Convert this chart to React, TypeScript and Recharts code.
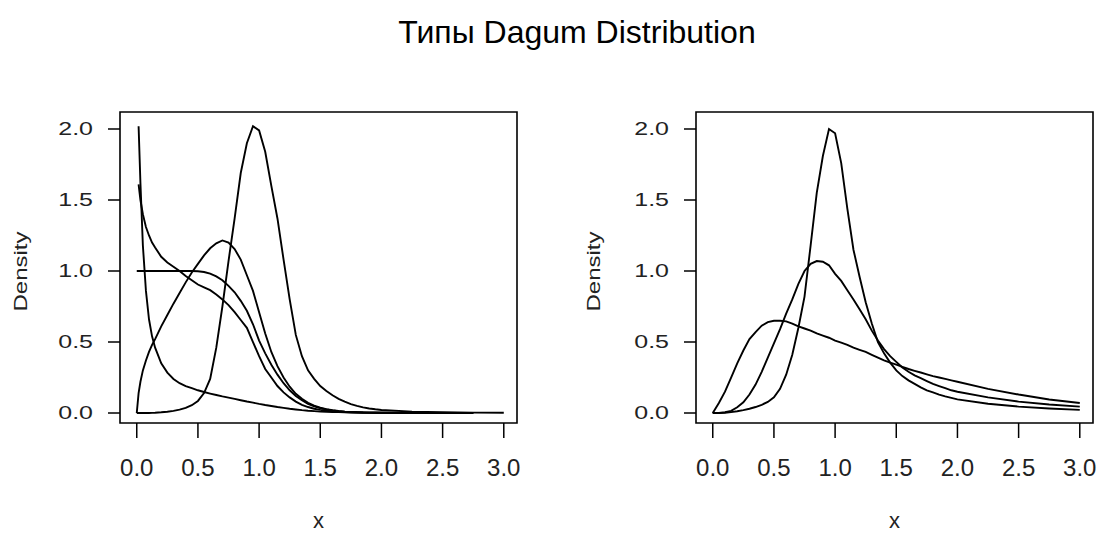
import React from 'react';
import { LineChart, Line, XAxis, YAxis, ReferenceArea } from 'recharts';

const FONT = '"Liberation Sans", Arial, sans-serif';
const TEXT_COLOR = '#222';

// ---------- data: left panel ----------
const leftX = [0, 0.015, 0.03, 0.05, 0.075, 0.1, 0.125, 0.15, 0.2, 0.25, 0.3, 0.35, 0.4, 0.45, 0.5, 0.55, 0.6, 0.65, 0.7, 0.75, 0.8, 0.85, 0.9, 0.95, 1.0, 1.05, 1.1, 1.15, 1.2, 1.25, 1.3, 1.35, 1.4, 1.45, 1.5, 1.55, 1.6, 1.65, 1.7, 1.75, 1.8, 1.85, 1.9, 1.95, 2.0, 2.25, 2.5, 2.75, 3.0];

const leftL1 = [null, 2.02, 1.62, 1.18, 0.86, 0.66, 0.54, 0.46, 0.35, 0.285, 0.24, 0.21, 0.19, 0.175, 0.16, 0.148, 0.137, 0.127, 0.117, 0.108, 0.099, 0.09, 0.081, 0.073, 0.064, 0.056, 0.049, 0.042, 0.036, 0.03, 0.025, 0.02, 0.016, 0.013, 0.01, 0.008, 0.007, 0.006, 0.005, 0.004, 0.004, 0.003, 0.003, 0.002, 0.002, 0.001, 0.001, 0, null];

const leftL2 = [null, 1.61, 1.5, 1.4, 1.31, 1.25, 1.2, 1.165, 1.1, 1.06, 1.03, 1.0, 0.965, 0.935, 0.905, 0.885, 0.865, 0.835, 0.8, 0.76, 0.71, 0.655, 0.6, 0.5, 0.4, 0.31, 0.25, 0.19, 0.145, 0.11, 0.08, 0.058, 0.042, 0.03, 0.022, 0.016, 0.012, 0.009, 0.007, 0.005, 0.004, 0.003, 0.002, 0.002, 0.001, 0, 0, 0, null];

const leftL3 = [1.0, 1.0, 1.0, 1.0, 1.0, 1.0, 1.0, 1.0, 1.0, 1.0, 1.0, 1.0, 1.0, 1.0, 0.998, 0.993, 0.982, 0.962, 0.935, 0.895, 0.85, 0.79, 0.72, 0.625, 0.51, 0.42, 0.34, 0.27, 0.21, 0.16, 0.12, 0.09, 0.065, 0.047, 0.034, 0.025, 0.018, 0.013, 0.009, 0.007, 0.005, 0.004, 0.003, 0.002, 0.002, 0.001, 0, 0, null];

const leftL4 = [0, 0.14, 0.22, 0.3, 0.37, 0.43, 0.48, 0.52, 0.61, 0.69, 0.77, 0.845, 0.92, 0.99, 1.05, 1.11, 1.16, 1.195, 1.215, 1.2, 1.155, 1.08, 0.97, 0.86, 0.71, 0.56, 0.43, 0.33, 0.25, 0.185, 0.135, 0.1, 0.072, 0.052, 0.037, 0.027, 0.02, 0.014, 0.01, 0.008, 0.006, 0.004, 0.003, 0.002, 0.002, 0.001, 0, 0, null];

const leftL5 = [0, 0, 0, 0, 0, 0, 0.001, 0.002, 0.005, 0.009, 0.015, 0.024, 0.036, 0.055, 0.085, 0.14, 0.24, 0.46, 0.75, 1.07, 1.37, 1.69, 1.9, 2.02, 1.99, 1.84, 1.6, 1.37, 1.08, 0.8, 0.55, 0.4, 0.3, 0.24, 0.19, 0.155, 0.125, 0.1, 0.08, 0.063, 0.05, 0.04, 0.032, 0.026, 0.021, 0.01, 0.005, 0.003, 0.002];

// ---------- data: right panel ----------
const rightX = [0, 0.05, 0.1, 0.15, 0.2, 0.25, 0.3, 0.35, 0.4, 0.45, 0.5, 0.55, 0.6, 0.65, 0.7, 0.75, 0.8, 0.85, 0.9, 0.95, 1.0, 1.05, 1.1, 1.15, 1.2, 1.25, 1.3, 1.35, 1.4, 1.45, 1.5, 1.55, 1.6, 1.65, 1.7, 1.75, 1.8, 1.85, 1.9, 1.95, 2.0, 2.25, 2.5, 2.75, 3.0];

const rightR1 = [0, 0, 0.002, 0.006, 0.012, 0.02, 0.03, 0.042, 0.058, 0.078, 0.11, 0.17, 0.27, 0.41, 0.6, 0.82, 1.18, 1.55, 1.81, 2.0, 1.97, 1.76, 1.44, 1.15, 0.96, 0.78, 0.63, 0.5, 0.42, 0.355, 0.3, 0.26, 0.23, 0.205, 0.18, 0.16, 0.145, 0.13, 0.117, 0.106, 0.096, 0.065, 0.045, 0.032, 0.022];

const rightR2 = [0, 0.001, 0.005, 0.015, 0.04, 0.075, 0.13, 0.2, 0.29, 0.39, 0.49, 0.59, 0.7, 0.8, 0.91, 1.0, 1.05, 1.07, 1.065, 1.04, 0.98, 0.93, 0.865, 0.8, 0.73, 0.66, 0.58, 0.51, 0.45, 0.4, 0.36, 0.32, 0.29, 0.265, 0.245, 0.225, 0.205, 0.19, 0.175, 0.16, 0.15, 0.11, 0.08, 0.06, 0.045];

const rightR3 = [0, 0.07, 0.15, 0.25, 0.35, 0.44, 0.52, 0.57, 0.615, 0.64, 0.65, 0.65, 0.645, 0.63, 0.61, 0.595, 0.58, 0.56, 0.545, 0.53, 0.51, 0.495, 0.48, 0.46, 0.445, 0.43, 0.41, 0.39, 0.37, 0.355, 0.34, 0.325, 0.31, 0.297, 0.285, 0.272, 0.26, 0.25, 0.24, 0.23, 0.22, 0.17, 0.13, 0.095, 0.07];

// ---------- axes ----------
const xTicks = [0, 0.5, 1, 1.5, 2, 2.5, 3];
const yTicks = [0, 0.5, 1, 1.5, 2];
const X_DOMAIN: [number, number] = [-0.137, 3.108];
const Y_DOMAIN: [number, number] = [-0.0704, 2.1197];

const TITLE = 'Типы Dagum Distribution';
const X_LABEL = 'x';
const Y_LABEL = 'Density';

function buildRows(xs: number[], series: (number | null)[][]) {
  return xs.map((x, i) => {
    const row: Record<string, number | null> = { x };
    series.forEach((s, k) => {
      row['s' + k] = s[i];
    });
    return row;
  });
}

const leftRows = buildRows(leftX, [leftL1, leftL2, leftL3, leftL4, leftL5]);
const rightRows = buildRows(rightX, [rightR1, rightR2, rightR3]);

const XTick = (props: any) => {
  const { x, y, payload } = props;
  return (
    <text x={x} y={y} textAnchor="middle" fontFamily={FONT} fontSize={24} fill={TEXT_COLOR}>
      {Number(payload.value).toFixed(1)}
    </text>
  );
};

const YTick = (props: any) => {
  const { x, y, payload } = props;
  return (
    <text
      x={x}
      y={y}
      textAnchor="end"
      dominantBaseline="central"
      fontFamily={FONT}
      fontSize={24}
      fill={TEXT_COLOR}
      transform={`translate(${x} ${y}) scale(1.04 0.74) translate(${-x} ${-y})`}
    >
      {Number(payload.value).toFixed(1)}
    </text>
  );
};

function Panel({
  rows,
  nSeries,
  left,
  yAxisWidth,
  marginRight,
  densityOffset,
}: {
  rows: any[];
  nSeries: number;
  left: number;
  yAxisWidth: number;
  marginRight: number;
  densityOffset: number;
}) {
  const keys = Array.from({ length: nSeries }, (_, k) => 's' + k);
  return (
    <div style={{ position: 'absolute', left, top: 0 }}>
      <LineChart
        width={549}
        height={534}
        data={rows}
        margin={{ top: 112, right: marginRight, bottom: 0, left: 0 }}
      >
        <XAxis
          dataKey="x"
          type="number"
          domain={X_DOMAIN}
          ticks={xTicks}
          interval={0}
          allowDataOverflow
          height={111}
          axisLine={false}
          tickSize={15}
          tickMargin={38}
          tickLine={{ stroke: '#000', strokeWidth: 1.5 }}
          tick={(p: any) => <XTick {...p} />}
          label={{
            content: (p: any) => {
              const vb = p.viewBox || {};
              const cx = vb.x + vb.width / 2;
              const by = vb.y + 105;
              return (
                <text
                  x={cx}
                  y={by}
                  textAnchor="middle"
                  fontFamily={FONT}
                  fontSize={22}
                  fill={TEXT_COLOR}
                >
                  {X_LABEL}
                </text>
              );
            },
          }}
        />
        <YAxis
          type="number"
          domain={Y_DOMAIN}
          ticks={yTicks}
          interval={0}
          allowDataOverflow
          width={yAxisWidth}
          axisLine={false}
          tickSize={12}
          tickMargin={15}
          tickLine={{ stroke: '#000', strokeWidth: 1.5 }}
          tick={(p: any) => <YTick {...p} />}
          label={{
            content: (p: any) => {
              const vb = p.viewBox || {};
              const cx = vb.x + densityOffset;
              const cy = vb.y + vb.height / 2 + 4;
              return (
                <text
                  x={0}
                  y={0}
                  textAnchor="middle"
                  dominantBaseline="central"
                  fontFamily={FONT}
                  fontSize={24}
                  fill={TEXT_COLOR}
                  transform={`translate(${cx} ${cy}) scale(0.77 1) rotate(-90)`}
                >
                  {Y_LABEL}
                </text>
              );
            },
          }}
        />
        <ReferenceArea
          x1={X_DOMAIN[0]}
          x2={X_DOMAIN[1]}
          y1={Y_DOMAIN[0]}
          y2={Y_DOMAIN[1]}
          fill="none"
          stroke="#000"
          strokeWidth={1.6}
          ifOverflow="visible"
        />
        {keys.map((k) => (
          <Line
            key={k}
            dataKey={k}
            type="linear"
            stroke="#000"
            strokeWidth={1.9}
            dot={false}
            activeDot={false}
            connectNulls={false}
            isAnimationActive={false}
          />
        ))}
      </LineChart>
    </div>
  );
}

export default function App() {
  return (
    <div
      style={{
        position: 'absolute',
        left: 0,
        top: 0,
        width: 1098,
        height: 534,
        background: '#fff',
        overflow: 'hidden',
      }}
    >
      <div
        style={{
          position: 'absolute',
          left: 377,
          width: 400,
          top: 10,
          textAlign: 'center',
          fontFamily: FONT,
          fontSize: 32,
          lineHeight: '44px',
          color: '#000',
          whiteSpace: 'nowrap',
        }}
      >
        {TITLE}
      </div>
      <Panel rows={leftRows} nSeries={5} left={0} yAxisWidth={120} marginRight={32} densityOffset={20.5} />
      <Panel rows={rightRows} nSeries={3} left={549} yAxisWidth={147} marginRight={5} densityOffset={45} />
    </div>
  );
}
